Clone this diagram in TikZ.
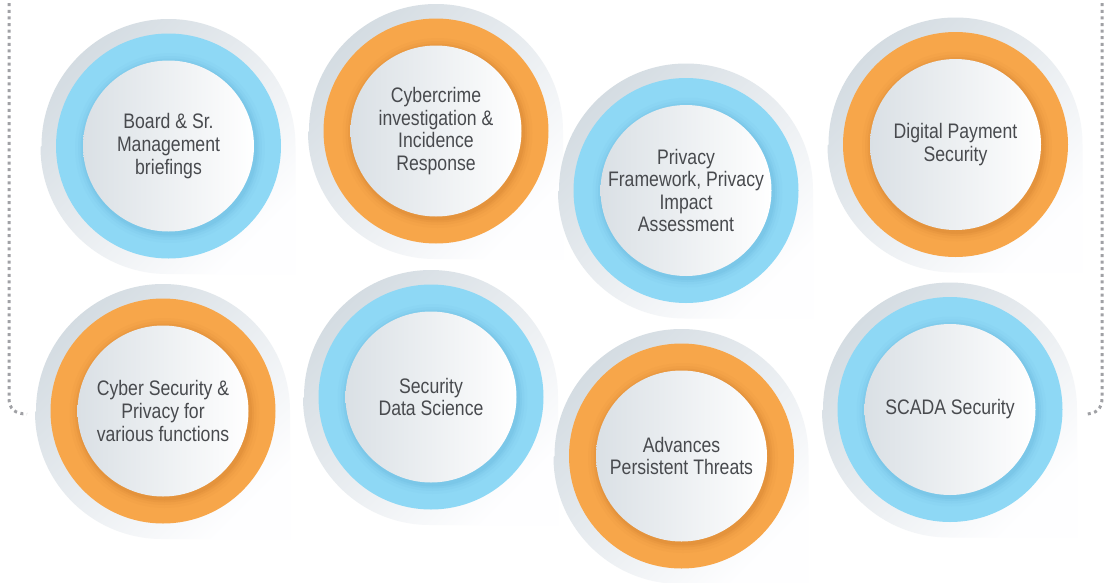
\documentclass[tikz,border=0pt]{standalone}
\usepackage{fontspec}
\setmainfont{Liberation Sans}[FakeStretch=0.84]
\definecolor{gtop}{RGB}{212,220,226}
\definecolor{gmid}{RGB}{224,230,234}
\definecolor{gbot}{RGB}{254,254,255}
\definecolor{ringblue}{RGB}{142,216,245}
\definecolor{darkblue}{RGB}{95,175,215}
\definecolor{ringorange}{RGB}{247,166,74}
\definecolor{darkorange}{RGB}{200,120,40}
\definecolor{innerL}{RGB}{218,224,229}
\definecolor{txt}{RGB}{72,74,78}
\definecolor{dotgray}{RGB}{160,161,165}
\tikzset{
  labeltext/.style={align=center, text=txt, font=\fontsize{21}{22.6}\selectfont, inner sep=0pt},
  dotline/.style={draw=dotgray, line width=3pt, dash pattern=on 3pt off 3.6pt},
}
\newcommand\bubble[6]{%
  \shade[top color=gtop, middle color=gmid, bottom color=gbot, shading angle=45]
    ({#2-127},#3) arc[start angle=180, end angle=360, radius=127]
    -- ++(0,128) -- ++(-128,0)
    arc[start angle=90, end angle=180, radius=127] -- cycle;
  \fill[#4] (#2,#3) circle[radius=112.5];
  \foreach \r/\o in {95/0.06,92/0.09,89.5/0.13,87.5/0.17}
    \fill[#5, opacity=\o] ({#2+1.5},{#3+2}) circle[radius=\r];
  \shade[left color=innerL, right color=white] (#2,#3) circle[radius=85.5];
  \node[labeltext] (#1) at (#2,#3) {#6};
}
\begin{document}
\begin{tikzpicture}[x=1pt, y=-1pt]
\useasboundingbox (0,0) rectangle (1104,582);
\clip (0,0) rectangle (1104,582);
\fill[white] (0,0) rectangle (1104,582);
% dotted bracket
\coordinate (lt) at (9,-10);
\coordinate (lb) at (9,398);
\coordinate (le) at (27,414);
\coordinate (rt) at (1102,-10);
\coordinate (rb) at (1102,398);
\coordinate (re) at (1085,414);
\draw[dotline] (lt) -- (lb) .. controls (9,409) and (15,414) .. (le);
\draw[dotline] (rt) -- (rb) .. controls (1102,409) and (1096,414) .. (re);
% bubbles
\bubble{board}{168.5}{146}{ringblue}{darkblue}{Board \& Sr.\\Management\\briefings}
\bubble{cyber}{436}{131}{ringorange}{darkorange}{Cybercrime\\investigation \&\\Incidence\\Response}
\bubble{privacy}{686}{190.5}{ringblue}{darkblue}{Privacy\\Framework, Privacy\\Impact\\Assessment}
\bubble{digital}{955.5}{144.5}{ringorange}{darkorange}{Digital Payment\\Security}
\bubble{cspriv}{163}{411}{ringorange}{darkorange}{Cyber Security \&\\Privacy for\\various functions}
\bubble{datasci}{431}{397}{ringblue}{darkblue}{Security\\Data Science}
\bubble{apt}{681.5}{456}{ringorange}{darkorange}{Advances\\Persistent Threats}
\bubble{scada}{950}{409.5}{ringblue}{darkblue}{SCADA Security}
\end{tikzpicture}
\end{document}
